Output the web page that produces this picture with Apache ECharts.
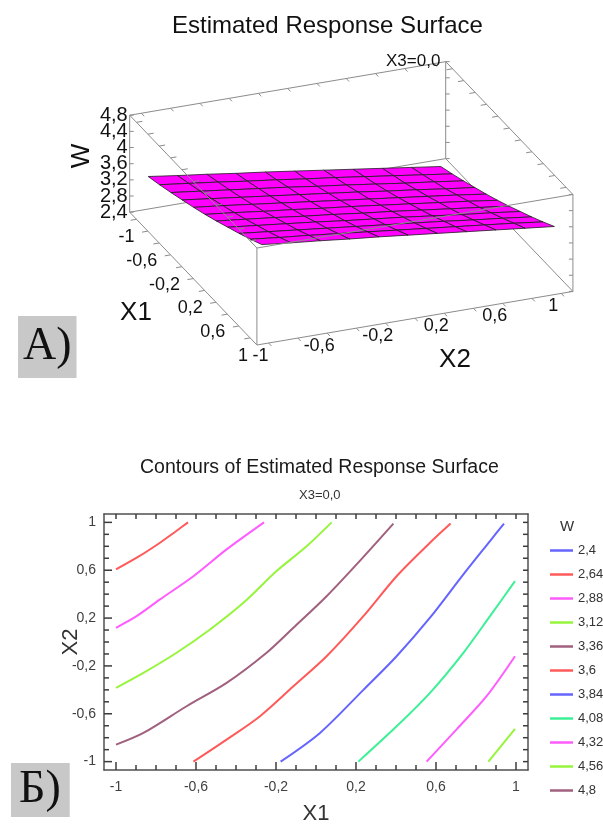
<!DOCTYPE html>
<html>
<head>
<meta charset="utf-8">
<title>Estimated Response Surface</title>
<script src="https://cdn.jsdelivr.net/npm/echarts@6/dist/echarts.min.js"></script>
<style>
  html, body { margin: 0; padding: 0; background: #fff; }
  #chart { width: 603px; height: 834px; }
</style>
</head>
<body>
<div id="chart"></div>
<script>
// сетка поверхности отклика (X3 = 0)
var gridX1 = [-1, -0.8, -0.6, -0.4, -0.2, 0, 0.2, 0.4, 0.6, 0.8, 1];
var gridX2 = [-1, -0.8, -0.6, -0.4, -0.2, 0, 0.2, 0.4, 0.6, 0.8, 1];
// W: одна строка на каждое значение X2, столбцы по gridX1
var surfaceW = [
  [3.41, 3.50, 3.60, 3.71, 3.82, 3.94, 4.07, 4.21, 4.35, 4.50, 4.66],
  [3.31, 3.41, 3.51, 3.62, 3.74, 3.86, 3.99, 4.13, 4.27, 4.42, 4.58],
  [3.22, 3.32, 3.42, 3.53, 3.65, 3.77, 3.91, 4.05, 4.19, 4.35, 4.51],
  [3.12, 3.22, 3.33, 3.44, 3.56, 3.69, 3.82, 3.97, 4.11, 4.27, 4.43],
  [3.03, 3.13, 3.24, 3.35, 3.47, 3.60, 3.74, 3.88, 4.03, 4.19, 4.36],
  [2.93, 3.03, 3.14, 3.26, 3.38, 3.52, 3.65, 3.80, 3.95, 4.11, 4.28],
  [2.83, 2.94, 3.05, 3.17, 3.29, 3.43, 3.57, 3.72, 3.87, 4.03, 4.20],
  [2.73, 2.84, 2.95, 3.07, 3.20, 3.34, 3.48, 3.63, 3.79, 3.95, 4.12],
  [2.63, 2.74, 2.85, 2.98, 3.11, 3.25, 3.39, 3.54, 3.70, 3.87, 4.04],
  [2.53, 2.64, 2.76, 2.88, 3.02, 3.16, 3.30, 3.46, 3.62, 3.79, 3.96],
  [2.43, 2.54, 2.66, 2.79, 2.92, 3.06, 3.21, 3.37, 3.53, 3.70, 3.88]
];
var wTicks = [2.4, 2.8, 3.2, 3.6, 4, 4.4, 4.8];
var xTicks = [-1, -0.6, -0.2, 0.2, 0.6, 1];

// уровни изолиний
var levels = [2.4, 2.64, 2.88, 3.12, 3.36, 3.6, 3.84, 4.08, 4.32, 4.56, 4.8];
var levelColors = ['#6464ff', '#ff5a5a', '#ff5cff', '#96f53c', '#a0607e', '#ff5a5a',
  '#6464ff', '#3cf096', '#ff5cff', '#96f53c', '#a0607e'];
// изолинии, точки [X1, X2]
var contour264 = [[-1, 0.607], [-0.888, 0.713], [-0.78, 0.83], [-0.705, 0.92], [-0.64, 1]];
var contour288 = [[-1, 0.119], [-0.897, 0.216], [-0.78, 0.356], [-0.613, 0.55], [-0.447, 0.774], [-0.26, 1]];
var contour312 = [[-1, -0.383], [-0.863, -0.258], [-0.697, -0.09], [-0.53, 0.105], [-0.363, 0.328],
  [-0.197, 0.593], [-0.047, 0.8], [0.078, 1]];
var contour336 = [[-1, -0.858], [-0.863, -0.76], [-0.647, -0.537], [-0.447, -0.342], [-0.247, -0.09],
  [-0.113, 0.119], [0.053, 0.383], [0.203, 0.649], [0.387, 0.99]];
var contour360 = [[-0.613, -1], [-0.447, -0.816], [-0.28, -0.62], [-0.113, -0.37], [0.053, -0.119],
  [0.237, 0.216], [0.403, 0.55], [0.57, 0.83], [0.673, 0.99]];
var contour384 = [[-0.177, -1], [0.02, -0.76], [0.237, -0.4], [0.403, -0.119], [0.57, 0.203],
  [0.737, 0.565], [0.87, 0.844], [0.94, 0.99]];
var contour408 = [[0.212, -1], [0.403, -0.705], [0.57, -0.425], [0.737, -0.09], [0.87, 0.216], [0.995, 0.509]];
var contour432 = [[0.553, -1], [0.703, -0.73], [0.853, -0.453], [0.995, -0.119]];
var contour456 = [[0.862, -1], [0.995, -0.726]];
var contourLines = [[], contour264, contour288, contour312, contour336, contour360,
  contour384, contour408, contour432, contour456, []];

var FONT = '"Liberation Sans", Arial, sans-serif';

function fmt(v) {
  return String(+v.toFixed(2)).replace('.', ',');
}

// параллельная проекция 3D-рамки
var box = {
  ox: 351.3, oy: 251.8,   // центр пола
  ux: 56.8, uy: 59.3,     // шаг по X1
  vx: 146.3, vy: -24.8,   // шаг по X2
  wz: 40.4,               // пикселей на единицу W
  x1r: 1.12, x2r: 1.08,
  wMin: 2.4, wMax: 4.8
};
function project(x1, x2, w) {
  return [
    box.ox + x1 * box.ux + x2 * box.vx,
    box.oy + x1 * box.uy + x2 * box.vy - (w - box.wMin) * box.wz
  ];
}

function seg(list, a, b, color, width) {
  list.push({
    type: 'line',
    shape: { x1: a[0], y1: a[1], x2: b[0], y2: b[1] },
    style: { stroke: color || '#8c8c8c', lineWidth: width || 1 }
  });
}
function label(list, x, y, text, size, align, vAlign, rot) {
  list.push({
    type: 'text', x: x, y: y, rotation: rot || 0,
    style: {
      text: text, fill: '#111', font: 'normal ' + size + 'px ' + FONT,
      align: align || 'center', verticalAlign: vAlign || 'middle'
    }
  });
}

var tick3d = [];
for (var t = -10; t <= 10; t += 2) tick3d.push(t / 10);

// задние рёбра, пол, подписи осей
function renderBoxBack() {
  var r1 = box.x1r, r2 = box.x2r, lo = box.wMin, hi = box.wMax;
  var c = [];
  seg(c, project(-r1, -r2, lo), project(r1, -r2, lo));
  seg(c, project(r1, -r2, lo), project(r1, r2, lo));
  seg(c, project(r1, r2, lo), project(-r1, r2, lo));
  seg(c, project(-r1, r2, lo), project(-r1, -r2, lo));
  seg(c, project(-r1, -r2, lo), project(-r1, -r2, hi));
  seg(c, project(-r1, r2, lo), project(-r1, r2, hi));
  seg(c, project(r1, r2, lo), project(r1, r2, hi));
  tick3d.forEach(function (v) {
    // X1 на полу и на верхних рёбрах
    seg(c, project(v, -r2, lo), project(v, -r2 - 0.04, lo));
    seg(c, project(v, r2, hi), project(v, r2 - 0.04, hi));
    // X2 на полу и сверху
    seg(c, project(r1, v, lo), project(r1 + 0.05, v, lo));
    seg(c, project(-r1, v, hi), project(-r1 + 0.05, v, hi));
  });
  wTicks.forEach(function (w) {
    var a = project(-r1, -r2, w), b = project(-r1, r2, w), d = project(r1, r2, w);
    seg(c, a, [a[0] + 4, a[1]]);
    seg(c, b, [b[0] + 4, b[1]]);
    seg(c, d, [d[0] - 4, d[1]]);
    label(c, a[0] - 2, a[1], fmt(w), 20, 'right');
  });
  xTicks.forEach(function (v) {
    var p = project(v, -r2, lo);
    label(c, p[0] - 2, p[1] + 18, fmt(v), 18, 'right');
    var q = project(r1, v, lo);
    label(c, q[0] - 8, q[1] + 13, fmt(v), 18, 'center');
  });
  label(c, 82, 156, 'W', 26, 'center', 'middle', Math.PI / 2);
  label(c, 136, 313, 'X1', 26);
  label(c, 455, 360, 'X2', 26);
  return { type: 'group', children: c };
}

// верхние рёбра и переднее ребро поверх поверхности
function renderBoxFront() {
  var r1 = box.x1r, r2 = box.x2r, lo = box.wMin, hi = box.wMax;
  var c = [];
  seg(c, project(-r1, -r2, hi), project(r1, -r2, hi));
  seg(c, project(r1, -r2, hi), project(r1, r2, hi));
  seg(c, project(r1, r2, hi), project(-r1, r2, hi));
  seg(c, project(-r1, r2, hi), project(-r1, -r2, hi));
  seg(c, project(r1, -r2, lo), project(r1, -r2, hi));
  tick3d.forEach(function (v) {
    seg(c, project(v, -r2, hi), project(v, -r2 + 0.04, hi));
  });
  return { type: 'group', children: c };
}

// ячейки поверхности: сначала дальние (малый X1, большой X2)
var cells = [];
for (var i2 = 0; i2 < gridX2.length - 1; i2++) {
  for (var i1 = 0; i1 < gridX1.length - 1; i1++) cells.push([i1, i2]);
}
cells.sort(function (a, b) { return (a[0] - a[1]) - (b[0] - b[1]); });

function renderCell(params, api) {
  var i = api.value(0), j = api.value(1);
  var pts = [
    project(gridX1[i], gridX2[j], surfaceW[j][i]),
    project(gridX1[i + 1], gridX2[j], surfaceW[j][i + 1]),
    project(gridX1[i + 1], gridX2[j + 1], surfaceW[j + 1][i + 1]),
    project(gridX1[i], gridX2[j + 1], surfaceW[j + 1][i])
  ];
  return {
    type: 'polygon',
    shape: { points: pts },
    style: { fill: '#ff00ff', stroke: '#1e1e1e', lineWidth: 0.8 }
  };
}

// контурный график: пределы осей и мелкие деления
var xLim = [-1.06, 1.06];
var yLim = [-1.07, 1.07];
var minorTicks = [];
for (var k = -10; k <= 10; k++) minorTicks.push(k / 10);

// деления рамки, пересчитываются через шкалы осей после первой отрисовки
var frameTicks = [];
function renderFrameTicks() {
  return { type: 'group', children: frameTicks };
}

function frameAxis(pos, min, max, main) {
  return {
    type: 'value', position: pos, min: min, max: max,
    axisLine: { show: true, onZero: false, lineStyle: { color: '#505050', width: 1.5 } },
    splitLine: { show: false },
    axisTick: { show: false },
    axisLabel: {
      show: main, customValues: xTicks, formatter: fmt,
      fontSize: 14, color: '#404040', margin: 8, fontFamily: FONT
    }
  };
}

var xMain = frameAxis('bottom', xLim[0], xLim[1], true);
xMain.name = 'X1';
xMain.nameLocation = 'middle';
xMain.nameGap = 33;
xMain.nameMoveOverlap = false;
xMain.nameTextStyle = { fontSize: 22, color: '#333', fontFamily: FONT };
xMain.axisLabel.margin = 10;
var yMain = frameAxis('left', yLim[0], yLim[1], true);
yMain.name = 'X2';
yMain.nameLocation = 'middle';
yMain.nameGap = 22;
yMain.nameMoveOverlap = false;
yMain.nameTextStyle = { fontSize: 22, color: '#333', fontFamily: FONT };

var levelNames = levels.map(fmt);
var lineSeries = levels.map(function (lv, idx) {
  return {
    name: levelNames[idx],
    type: 'line',
    xAxisIndex: 0, yAxisIndex: 0,
    data: contourLines[idx],
    smooth: 0.3,
    symbol: 'none',
    silent: true,
    lineStyle: { color: levelColors[idx], width: 2 },
    itemStyle: { color: levelColors[idx] }
  };
});

var tickSeries = { type: 'custom', coordinateSystem: 'none', z: 4, silent: true, data: [[0]], renderItem: renderFrameTicks };

var chart = echarts.init(document.getElementById('chart'));
var option = {
  animation: false,
  backgroundColor: '#fff',
  textStyle: { fontFamily: FONT },
  title: [
    { text: 'Estimated Response Surface', left: 167, top: 9,
      textStyle: { fontSize: 24, fontWeight: 'normal', color: '#111', fontFamily: FONT } },
    { text: 'X3=0,0', left: 381, top: 48,
      textStyle: { fontSize: 17, fontWeight: 'normal', color: '#111', fontFamily: FONT } },
    { text: 'Contours of Estimated Response Surface', left: 135, top: 453,
      textStyle: { fontSize: 19.5, fontWeight: 'normal', color: '#1a1a1a', fontFamily: FONT } },
    { text: 'X3=0,0', left: 294, top: 484,
      textStyle: { fontSize: 13, fontWeight: 'normal', color: '#333', fontFamily: FONT } },
    { text: 'W', left: 555, top: 514,
      textStyle: { fontSize: 15, fontWeight: 'normal', color: '#333', fontFamily: FONT } },
    { text: 'А)', left: 18, top: 316, backgroundColor: '#c8c8c8', padding: [8, 5, 8, 5],
      textStyle: { fontSize: 46, lineHeight: 46, fontWeight: 'normal', color: '#111', fontFamily: '"Liberation Serif", serif' } },
    { text: 'Б)', left: 11, top: 763, backgroundColor: '#c8c8c8', padding: [4, 9, 4, 8],
      textStyle: { fontSize: 46, lineHeight: 46, fontWeight: 'normal', color: '#111', fontFamily: '"Liberation Serif", serif' } }
  ],
  legend: {
    orient: 'vertical', left: 545, top: 539,
    icon: 'rect', itemWidth: 23, itemHeight: 2.5, itemGap: 11,
    data: levelNames,
    selectedMode: false,
    textStyle: { fontSize: 13, lineHeight: 13, color: '#333', fontFamily: FONT }
  },
  grid: {
    left: 104, right: 75, top: 514, bottom: 64,
    show: false
  },
  xAxis: [xMain, frameAxis('top', xLim[0], xLim[1], false)],
  yAxis: [yMain, frameAxis('right', yLim[0], yLim[1], false)],
  series: lineSeries.concat([
    tickSeries,
    { type: 'custom', coordinateSystem: 'none', z: 1, silent: true, data: [[0]], renderItem: renderBoxBack },
    { type: 'custom', coordinateSystem: 'none', z: 2, silent: true, data: cells, renderItem: renderCell },
    { type: 'custom', coordinateSystem: 'none', z: 3, silent: true, data: [[0]], renderItem: renderBoxFront }
  ])
};
chart.setOption(option);

// деления внутрь рамки со всех четырёх сторон
var finder = { xAxisIndex: 0, yAxisIndex: 0 };
var tickColor = '#3c3c3c';
minorTicks.forEach(function (v) {
  var major = xTicks.some(function (m) { return Math.abs(m - v) < 1e-6; });
  var len = major ? 8 : 5;
  var b = chart.convertToPixel(finder, [v, yLim[0]]);
  var tp = chart.convertToPixel(finder, [v, yLim[1]]);
  var l = chart.convertToPixel(finder, [xLim[0], v]);
  var r = chart.convertToPixel(finder, [xLim[1], v]);
  seg(frameTicks, b, [b[0], b[1] - len], tickColor, 1.5);
  seg(frameTicks, tp, [tp[0], tp[1] + 5], tickColor, 1.5);
  seg(frameTicks, l, [l[0] + len, l[1]], tickColor, 1.5);
  seg(frameTicks, r, [r[0] - 5, r[1]], tickColor, 1.5);
});
tickSeries.data = [[1]];
chart.setOption(option);
</script>
</body>
</html>
